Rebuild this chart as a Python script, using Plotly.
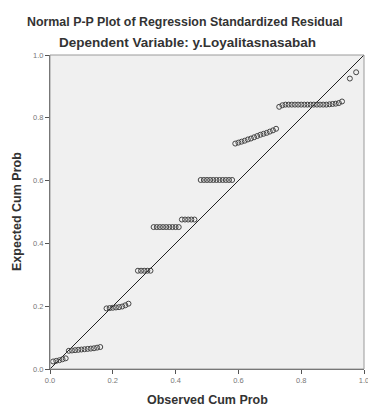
import plotly.graph_objects as go

# Observed cumulative probability (x) and expected cumulative probability (y)
observed_cum_prob = [
    0.01, 0.02, 0.03, 0.04, 0.05,
    0.06, 0.07, 0.08, 0.09, 0.10, 0.11, 0.12, 0.13, 0.14, 0.15, 0.16,
    0.18, 0.19, 0.20, 0.21, 0.22, 0.23, 0.24, 0.25,
    0.28, 0.29, 0.30, 0.31, 0.32,
    0.33, 0.34, 0.35, 0.36, 0.37, 0.38, 0.39, 0.40, 0.41,
    0.42, 0.43, 0.44, 0.45, 0.46,
    0.48, 0.49, 0.50, 0.51, 0.52, 0.53, 0.54, 0.55, 0.56, 0.57, 0.58,
    0.59, 0.60, 0.61, 0.62, 0.63, 0.64, 0.65, 0.66, 0.67, 0.68, 0.69, 0.70, 0.71, 0.72,
    0.73, 0.74, 0.75, 0.76, 0.77, 0.78, 0.79, 0.80, 0.81, 0.82, 0.83, 0.84, 0.85,
    0.86, 0.87, 0.88, 0.89, 0.90, 0.91, 0.92, 0.93,
    0.955, 0.975,
]
expected_cum_prob = [
    0.024, 0.026, 0.028, 0.031, 0.034,
    0.058, 0.059, 0.060, 0.061, 0.062, 0.063, 0.064, 0.065, 0.066, 0.068, 0.070,
    0.193, 0.194, 0.195, 0.196, 0.197, 0.199, 0.203, 0.208,
    0.313, 0.313, 0.313, 0.313, 0.313,
    0.452, 0.452, 0.452, 0.452, 0.452, 0.452, 0.452, 0.452, 0.452,
    0.476, 0.476, 0.476, 0.476, 0.476,
    0.602, 0.602, 0.602, 0.602, 0.602, 0.602, 0.602, 0.602, 0.602, 0.602, 0.602,
    0.718, 0.721, 0.724, 0.727, 0.731, 0.734, 0.738, 0.742, 0.746, 0.749, 0.752, 0.756, 0.760, 0.765,
    0.835, 0.840, 0.842, 0.842, 0.842, 0.842, 0.842, 0.842, 0.842, 0.842, 0.842, 0.842, 0.842,
    0.842, 0.842, 0.842, 0.843, 0.844, 0.845, 0.847, 0.852,
    0.925, 0.945,
]
reference_line = [0.0, 1.0]
tick_values = [0.0, 0.2, 0.4, 0.6, 0.8, 1.0]
tick_labels = ["0.0", "0.2", "0.4", "0.6", "0.8", "1.0"]

FONT = "Liberation Sans, Arial, sans-serif"

fig = go.Figure()
fig.add_trace(go.Scatter(
    x=reference_line, y=reference_line, mode="lines",
    line=dict(color="#222222", width=1), hoverinfo="skip", showlegend=False,
))
fig.add_trace(go.Scatter(
    x=observed_cum_prob, y=expected_cum_prob, mode="markers",
    marker=dict(symbol="circle-open", size=5, color="#444444", line=dict(width=1, color="#444444")),
    showlegend=False,
))

axis_common = dict(
    range=[0, 1], tickvals=tick_values, ticktext=tick_labels,
    showgrid=False, zeroline=False, showline=True, linecolor="#555555", linewidth=1,
    ticks="outside", ticklen=4, tickcolor="#555555",
    tickfont=dict(family=FONT, size=7.5, color="#777777"),
)
fig.update_xaxes(**axis_common)
fig.update_yaxes(**axis_common)

fig.add_shape(type="rect", xref="paper", yref="paper", x0=0, y0=0, x1=1, y1=1,
              line=dict(color="#9a9a9a", width=1), layer="above")

fig.update_layout(
    width=368, height=399,
    margin=dict(l=42, r=7, t=47, b=38),
    paper_bgcolor="white", plot_bgcolor="#f0f0f0",
    font=dict(family=FONT),
    annotations=[
        dict(text="<b>Normal P-P Plot of Regression Standardized Residual</b>",
             xref="paper", yref="paper", x=0.43, y=1, yshift=33, xanchor="center", yanchor="middle",
             showarrow=False, font=dict(family=FONT, size=12.4, color="#333333")),
        dict(text="<b>Dependent Variable: y.Loyalitasnasabah</b>",
             xref="paper", yref="paper", x=0.438, y=1, yshift=13, xanchor="center", yanchor="middle",
             showarrow=False, font=dict(family=FONT, size=13.5, color="#333333")),
        dict(text="<b>Observed Cum Prob</b>",
             xref="paper", yref="paper", x=0.5, y=0, yshift=-31, xanchor="center", yanchor="middle",
             showarrow=False, font=dict(family=FONT, size=12.5, color="#333333")),
        dict(text="<b>Expected Cum Prob</b>", textangle=-90,
             xref="paper", yref="paper", x=0, y=0.5, xshift=-33, xanchor="center", yanchor="middle",
             showarrow=False, font=dict(family=FONT, size=12.5, color="#333333")),
    ],
)

fig.write_html("out.html")
